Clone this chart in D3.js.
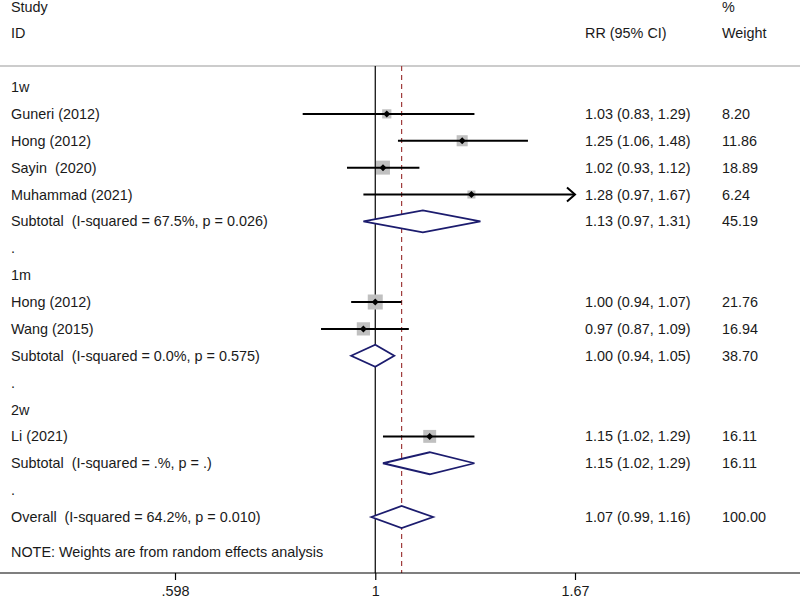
<!DOCTYPE html>
<html><head><meta charset="utf-8">
<script src="https://cdn.jsdelivr.net/npm/d3@7"></script>
<style>body{margin:0;background:#fff}</style>
</head><body>
<svg id="c" width="800" height="598"></svg>
<script>
const labels = ["1w","Guneri (2012)","Hong (2012)","Sayin  (2020)","Muhammad (2021)","Subtotal  (I-squared = 67.5%, p = 0.026)",".",
 "1m","Hong (2012)","Wang (2015)","Subtotal  (I-squared = 0.0%, p = 0.575)",".",
 "2w","Li (2021)","Subtotal  (I-squared = .%, p = .)",".",
 "Overall  (I-squared = 64.2%, p = 0.010)"];
const kinds = ["head","study","study","study","study","sub","blank","head","study","study","sub","blank","head","study","sub","blank","sub"];
const rr =    [null,1.03,1.25,1.02,1.28,1.13,null,null,1.00,0.97,1.00,null,null,1.15,1.15,null,1.07];
const lo =    [null,0.83,1.06,0.93,0.97,0.97,null,null,0.94,0.87,0.94,null,null,1.02,1.02,null,0.99];
const hi =    [null,1.29,1.48,1.12,1.67,1.31,null,null,1.07,1.09,1.05,null,null,1.29,1.29,null,1.16];
const ciText = [null,"1.03 (0.83, 1.29)","1.25 (1.06, 1.48)","1.02 (0.93, 1.12)","1.28 (0.97, 1.67)","1.13 (0.97, 1.31)",null,null,
 "1.00 (0.94, 1.07)","0.97 (0.87, 1.09)","1.00 (0.94, 1.05)",null,null,"1.15 (1.02, 1.29)","1.15 (1.02, 1.29)",null,"1.07 (0.99, 1.16)"];
const weights = [null,"8.20","11.86","18.89","6.24","45.19",null,null,"21.76","16.94","38.70",null,null,"16.11","16.11",null,"100.00"];
const tickVals = [0.598,1,1.67];
const tickLabels = [".598","1","1.67"];
const overallRR = 1.07;
const note = "NOTE: Weights are from random effects analysis";

const svg = d3.select("#c");
const font = "'Liberation Sans', Arial, sans-serif";
const fs = 14.4;
const txt = "#1a1a1a";
const x = d3.scaleLog().domain([0.598,1.67]).range([175,575]);
const y = d3.scaleLinear().domain([0,16]).range([87,517]);
const axisY = 573, topY = 66;

// header
const head = [["Study",11,7],["ID",11,33],["RR (95% CI)",585,33],["%",722,7],["Weight",722,33]];
svg.selectAll("text.h").data(head).join("text").attr("class","h")
 .attr("x",d=>d[1]).attr("y",d=>d[2]).attr("dominant-baseline","central")
 .attr("font-family",font).attr("font-size",fs).attr("fill",txt).text(d=>d[0]);
svg.append("line").attr("x1",0).attr("x2",800).attr("y1",topY).attr("y2",topY).attr("stroke","#bbb").attr("stroke-width",1.5);

// reference lines
svg.append("line").attr("x1",x(1)).attr("x2",x(1)).attr("y1",topY).attr("y2",axisY).attr("stroke","#000").attr("stroke-width",1.2);
svg.append("line").attr("x1",x(overallRR)).attr("x2",x(overallRR)).attr("y1",topY).attr("y2",axisY)
 .attr("stroke","#a03c3c").attr("stroke-width",1.2).attr("stroke-dasharray","5,4");

// labels
const idx = d3.range(labels.length);
svg.selectAll("text.l").data(idx).join("text").attr("class","l")
 .attr("x",11).attr("y",i=>y(i)).attr("dominant-baseline","central")
 .attr("font-family",font).attr("font-size",fs).attr("fill",txt).style("white-space","pre").text(i=>labels[i]);
svg.selectAll("text.ci").data(idx.filter(i=>ciText[i])).join("text").attr("class","ci")
 .attr("x",585).attr("y",i=>y(i)).attr("dominant-baseline","central")
 .attr("font-family",font).attr("font-size",fs).attr("fill",txt).text(i=>ciText[i]);
svg.selectAll("text.w").data(idx.filter(i=>weights[i])).join("text").attr("class","w")
 .attr("x",722).attr("y",i=>y(i)).attr("dominant-baseline","central")
 .attr("font-family",font).attr("font-size",fs).attr("fill",txt).text(i=>weights[i]);
svg.append("text").attr("x",11).attr("y",552).attr("dominant-baseline","central")
 .attr("font-family",font).attr("font-size",fs).attr("fill",txt).text(note);

// studies
const studies = idx.filter(i=>kinds[i]==="study");
const g = svg.append("g");
studies.forEach(i=>{
  const s = 3.215*Math.sqrt(+weights[i]);
  g.append("rect").attr("x",x(rr[i])-s/2).attr("y",y(i)-s/2).attr("width",s).attr("height",s).attr("fill","#c0c0c0");
});
studies.forEach(i=>{
  const [a,b] = x.range();
  const x1 = Math.max(a,x(lo[i])), x2 = Math.min(b,x(hi[i]));
  g.append("line").attr("x1",x1).attr("x2",x2).attr("y1",y(i)).attr("y2",y(i)).attr("stroke","#000").attr("stroke-width",2);
  if (hi[i]>=x.domain()[1]) {
    g.append("path").attr("d",`M${x2-8},${y(i)-7}L${x2},${y(i)}L${x2-8},${y(i)+7}`).attr("fill","none").attr("stroke","#000").attr("stroke-width",2);
  }
  const cx=x(rr[i]), cy=y(i);
  g.append("path").attr("d",`M${cx-3.5},${cy}L${cx},${cy-3.5}L${cx+3.5},${cy}L${cx},${cy+3.5}Z`).attr("fill","#000");
});
// diamonds
idx.filter(i=>kinds[i]==="sub").forEach(i=>{
  const cy=y(i), h=11;
  g.append("path").attr("d",`M${x(lo[i])},${cy}L${x(rr[i])},${cy-h}L${x(hi[i])},${cy}L${x(rr[i])},${cy+h}Z`)
   .attr("fill","#fff").attr("stroke","#1c1c6e").attr("stroke-width",1.8);
});

// axis
svg.append("line").attr("x1",0).attr("x2",800).attr("y1",axisY).attr("y2",axisY).attr("stroke","#000").attr("stroke-width",1.2);
const ax = d3.axisBottom(x).tickValues(tickVals).tickFormat((d,i)=>tickLabels[i]).tickSize(7).tickSizeOuter(0);
const ag = svg.append("g").attr("transform",`translate(0,${axisY})`).call(ax);
ag.select(".domain").remove();
ag.selectAll("text").attr("font-family",font).attr("font-size",fs).attr("fill",txt).attr("y",13).attr("dy","0.71em");
ag.selectAll("line").attr("stroke","#000").attr("stroke-width",1.2);
</script>
</body></html>
